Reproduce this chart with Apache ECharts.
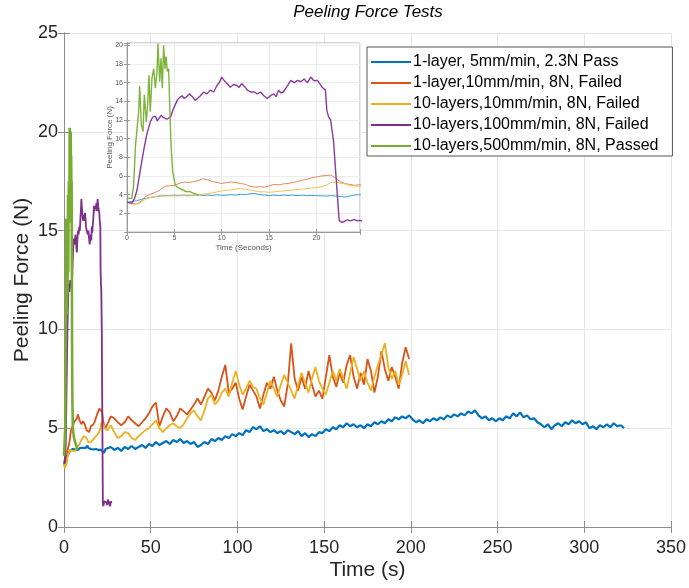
<!DOCTYPE html>
<html>
<head>
<meta charset="utf-8">
<title>Peeling Force Tests</title>
<script src="https://cdn.jsdelivr.net/npm/echarts@6/dist/echarts.min.js"></script>
<style>
  html, body { margin: 0; padding: 0; background: #fff; }
  #chart { width: 689px; height: 588px; }
</style>
</head>
<body>
<div id="chart"></div>
<script>
// series names (legend)
const names = [
  '1-layer, 5mm/min, 2.3N Pass',
  '1-layer,10mm/min, 8N, Failed',
  '10-layers,10mm/min, 8N, Failed',
  '10-layers,100mm/min, 8N, Failed',
  '10-layers,500mm/min, 8N, Passed'
];

// first 25 s, one value every 0.5 s
const blueEarly = [3.2, 3.25, 3.35, 3.5, 3.6, 3.7, 3.8, 3.85, 3.9, 3.88, 3.95, 3.9, 3.95, 3.92, 3.93, 4.0, 3.9, 3.95, 3.9, 4.0,
  3.92, 3.95, 4.0, 3.95, 4.05, 4.0, 4.1, 4.12, 4.0, 3.95, 3.9, 3.95, 3.9, 3.95, 3.92, 3.95, 3.9, 3.95, 3.88, 3.92,
  3.9, 3.88, 3.85, 3.9, 3.85, 3.8, 3.75, 3.85, 3.95, 4.0];
const orangeEarly = [3.2, 3.05, 3.0, 3.3, 3.85, 4.05, 4.25, 4.5, 4.9, 4.95, 5.0, 5.2, 5.35, 5.3, 5.4, 5.5, 5.7, 5.6, 5.4, 5.3,
  5.2, 5.3, 5.35, 5.3, 5.2, 5.1, 4.9, 4.8, 4.85, 4.8, 4.95, 5.1, 5.05, 5.15, 5.2, 5.3, 5.4, 5.55, 5.65, 5.8,
  5.9, 6.0, 6.05, 6.1, 5.8, 5.4, 5.2, 5.1, 5.0, 5.05];
const yellowEarly = [3.2, 3.0, 2.95, 3.2, 3.55, 3.7, 3.8, 3.9, 3.85, 3.9, 3.85, 3.88, 3.9, 3.85, 3.93, 4.0, 4.05, 4.1, 4.2, 4.3,
  4.4, 4.45, 4.5, 4.6, 4.65, 4.6, 4.5, 4.4, 4.3, 4.3, 4.25, 4.3, 4.35, 4.4, 4.45, 4.5, 4.55, 4.6, 4.65, 4.7,
  4.75, 4.85, 5.0, 5.3, 5.35, 5.25, 5.15, 5.0, 4.95, 4.9];

// from 25 s on, one value every 2 s
const blueLate = [3.95, 4.05, 3.9, 4.0, 3.85, 4.05, 3.95, 4.1, 3.95, 4.05, 4.15, 4.0, 4.2, 4.1, 4.3, 4.15, 4.25, 4.35, 4.2, 4.4,
  4.3, 4.45, 4.25, 4.35, 4.2, 4.3, 4.05, 4.15, 4.3, 4.2, 4.45, 4.35, 4.5, 4.4, 4.6, 4.5, 4.7, 4.6, 4.75, 4.65,
  4.9, 4.8, 5.05, 4.95, 5.1, 4.85, 4.95, 4.8, 4.9, 4.75, 4.85, 4.7, 4.9, 4.8, 4.7, 4.85, 4.6, 4.75, 4.55, 4.7,
  4.6, 4.8, 4.75, 4.95, 4.85, 5.05, 4.95, 5.15, 5.05, 5.25, 5.1, 5.2, 5.05, 5.15, 5.0, 5.2, 5.1, 5.3, 5.2, 5.35,
  5.25, 5.45, 5.35, 5.55, 5.45, 5.6, 5.5, 5.65, 5.45, 5.3, 5.4, 5.25, 5.45, 5.35, 5.5, 5.4, 5.55, 5.45, 5.65, 5.55,
  5.7, 5.6, 5.75, 5.65, 5.85, 5.75, 5.9, 5.65, 5.5, 5.6, 5.4, 5.5, 5.35, 5.5, 5.4, 5.6, 5.5, 5.75, 5.6, 5.8,
  5.55, 5.65, 5.45, 5.5, 5.3, 5.2, 5.05, 5.2, 4.95, 5.15, 5.25, 5.1, 5.3, 5.2, 5.4, 5.25, 5.35, 5.2, 5.3, 5.0,
  5.1, 4.95, 5.15, 5.05, 5.2, 5.05, 5.25, 5.1, 5.15, 5.0];
const orangeLate = [5.1, 5.6, 5.5, 5.3, 5.15, 5.3, 5.6, 5.4, 5.25, 5.1, 5.3, 5.5, 5.75, 6.1, 6.3, 5.1, 5.6, 6.0, 5.8, 5.35,
  5.6, 6.0, 5.85, 5.7, 5.95, 6.2, 6.5, 6.2, 6.6, 7.0, 6.8, 6.4, 6.9, 7.6, 8.2, 6.8, 7.0, 7.3, 6.5, 5.95,
  6.6, 7.2, 6.9, 6.6, 6.0, 6.7, 7.3, 7.0, 7.6, 6.9, 6.4, 6.1, 7.2, 9.3, 7.5, 6.9, 7.6, 7.0, 7.9, 7.2,
  6.6, 6.9, 6.5, 7.6, 8.7, 7.6, 7.1, 7.8, 7.3, 8.2, 8.7, 7.6, 7.0, 7.8, 7.2, 8.5, 7.9, 6.8, 7.6, 8.9,
  8.0, 7.4, 8.1, 7.6, 7.0, 8.3, 9.1, 8.5];
const yellowLate = [4.9, 5.15, 4.8, 4.5, 4.6, 4.8, 4.75, 4.5, 4.4, 4.6, 4.75, 4.9, 5.0, 5.2, 5.4, 5.0, 4.8, 5.0, 5.15, 5.25,
  5.1, 5.0, 5.2, 5.5, 5.75, 5.9, 5.6, 5.4, 5.9, 6.5, 6.7, 6.2, 6.4, 6.8, 7.0, 6.6, 7.3, 7.9, 7.2, 6.7,
  7.0, 7.4, 7.1, 7.0, 6.5, 6.2, 6.8, 7.4, 7.0, 6.6, 7.2, 7.7, 7.3, 6.9, 6.5, 7.2, 7.8, 7.3, 6.8, 7.5,
  8.1, 7.4, 7.0, 6.7, 7.3, 7.9, 7.4, 8.0, 7.5, 7.0, 7.8, 8.6, 8.0, 7.4, 7.9, 7.3, 6.9, 7.6, 8.2, 8.7,
  9.3, 8.1, 7.5, 7.9, 7.2, 7.7, 8.4, 7.7];

// purple and green runs: time (s) and force (N)
const purpleT = [0, 0.5, 0.8, 1.06, 1.4, 1.76, 2.1, 2.46, 2.7, 3.0, 3.2, 3.35, 3.6, 3.87, 4.2, 4.6, 4.9, 5.3, 5.55, 5.8,
  6.05, 6.3, 6.6, 6.9, 7.2, 7.4, 7.75, 8.1, 8.45, 8.8, 9.15, 9.5, 9.8, 10.0, 10.2, 10.4, 10.65, 10.9, 11.25, 11.6,
  11.85, 12.1, 12.4, 12.7, 13.05, 13.4, 13.75, 14.1, 14.45, 14.8, 15.15, 15.5, 15.75, 16.0, 16.25, 16.5, 16.9, 17.3, 17.65, 18.0,
  18.35, 18.7, 19.05, 19.4, 19.75, 20.1, 20.35, 20.6, 20.95, 21.1, 21.3, 21.5, 21.8, 22.1, 22.4, 22.65, 22.9, 23.25, 23.6, 24.0,
  24.3, 24.6, 25.0, 25.4, 25.8, 26.2, 26.6, 27.0, 27.4];
const purpleF = [3.2, 3.1, 3.6, 4.5, 6.6, 8.75, 10.5, 11.8, 12.3, 12.4, 11.9, 12.0, 12.5, 12.25, 12.1, 12.3, 13.2, 14.1, 14.4, 14.6,
  14.3, 14.5, 14.8, 14.5, 14.1, 13.9, 14.6, 15.0, 14.8, 15.2, 15.0, 15.7, 16.1, 16.6, 16.3, 16.25, 15.8, 15.5, 15.8, 15.7,
  15.5, 15.9, 15.6, 15.2, 15.0, 15.0, 14.8, 15.0, 14.6, 14.3, 14.6, 14.8, 14.5, 15.2, 14.9, 15.0, 15.6, 16.25, 16.0, 16.25,
  16.1, 16.4, 16.0, 16.6, 16.2, 16.25, 15.9, 15.5, 15.2, 13.0, 12.3, 12.0, 9.8, 5.5, 1.25, 1.05, 1.1, 1.3, 1.2, 1.35,
  1.2, 1.25, 1.1, 1.4, 1.15, 1.3, 1.05, 1.3, 1.2];
const greenT = [0, 0.5, 0.7, 0.9, 1.06, 1.23, 1.34, 1.51, 1.69, 1.83, 2.04, 2.18, 2.32, 2.46, 2.64, 2.82, 2.99, 3.17, 3.27, 3.45,
  3.59, 3.73, 3.87, 4.01, 4.12, 4.26, 4.4, 4.51, 4.65, 4.82, 5.1, 5.4, 5.6, 5.9, 6.3, 6.6, 6.9, 7.2, 7.4, 7.6];
const greenF = [3.6, 3.6, 5.0, 9.3, 9.5, 12.9, 15.6, 11.5, 10.75, 14.7, 11.8, 13.6, 16.8, 12.9, 16.5, 17.5, 15.4, 17.2, 20.2, 16.1,
  18.6, 15.4, 20.0, 17.5, 18.8, 17.2, 17.5, 13.6, 9.3, 6.5, 5.0, 4.75, 4.6, 4.5, 4.3, 4.35, 4.2, 4.1, 4.0, 3.9];

const mainColors = ['#0072BD', '#D95319', '#EDB120', '#7E2F8E', '#77AC30'];
const insetColors = ['#3DA0DA', '#E8865E', '#F0C24E', '#8B3A9E', '#7CB43A'];
const mainWidths = [2.2, 1.8, 1.8, 1.8, 2.6];

function stepPoints(values, t0, dt) {
  return values.map((v, i) => [t0 + i * dt, v]);
}
function pairPoints(ts, vs) {
  return ts.map((t, i) => [t, vs[i]]);
}

const seriesData = [
  stepPoints(blueEarly, 0, 0.5).concat(stepPoints(blueLate, 25, 2)),
  stepPoints(orangeEarly, 0, 0.5).concat(stepPoints(orangeLate, 25, 2)),
  stepPoints(yellowEarly, 0, 0.5).concat(stepPoints(yellowLate, 25, 2)),
  pairPoints(purpleT, purpleF),
  pairPoints(greenT, greenF)
];

const font = "'Liberation Sans', Arial, sans-serif";
const frame = '#8c8c8c';
const gridLine = '#e6e6e6';

const chart = echarts.init(document.getElementById('chart'), null, { renderer: 'canvas' });

// axis builder for the MATLAB style box (ticks inside)
function boxAxis(extra) {
  return Object.assign({
    type: 'value',
    nameMoveOverlap: false,
    axisLine: { show: true, lineStyle: { color: frame, width: 1 } },
    axisTick: { show: true, inside: true, length: 6, lineStyle: { color: frame } },
    splitLine: { show: false },
    axisLabel: { show: false }
  }, extra);
}

const series = [];
seriesData.forEach((d, i) => {
  series.push({
    name: names[i], type: 'line', xAxisIndex: 0, yAxisIndex: 0,
    data: d, showSymbol: false, symbol: 'none', animation: false,
    lineStyle: { color: mainColors[i], width: mainWidths[i] },
    itemStyle: { color: mainColors[i] },
    z: 2
  });
});
seriesData.forEach((d, i) => {
  series.push({
    name: names[i], type: 'line', xAxisIndex: 2, yAxisIndex: 2,
    data: d, showSymbol: false, symbol: 'none', animation: false,
    lineStyle: { color: insetColors[i], width: i >= 3 ? 1.4 : 1 },
    itemStyle: { color: insetColors[i] },
    z: 8
  });
});

const option = {
  animation: false,
  backgroundColor: '#fff',
  title: {
    text: 'Peeling Force Tests',
    left: 368, top: 4, padding: 0, textAlign: 'center',
    textStyle: { fontFamily: font, fontSize: 17, fontStyle: 'italic', fontWeight: 'normal', color: '#000' }
  },
  legend: {
    data: names,
    orient: 'vertical',
    left: 367, top: 47,
    padding: [7, 14, 2, 3],
    itemGap: 5, itemWidth: 40, itemHeight: 14,
    itemStyle: { opacity: 0 },
    backgroundColor: '#fff',
    borderColor: '#555', borderWidth: 1,
    textStyle: { fontFamily: font, fontSize: 16, lineHeight: 16, color: '#000', padding: [0, 0, 0, -3] },
    z: 20
  },
  grid: [
    { left: 64, top: 33, width: 609, height: 494, show: false },
    { left: 127, top: 43, width: 233, height: 189, show: true, backgroundColor: '#fff', borderColor: '#b0b0b0', borderWidth: 1, z: 5 }
  ],
  xAxis: [
    boxAxis({
      gridIndex: 0, position: 'bottom', min: 0, max: 350, interval: 50,
      name: 'Time (s)', nameLocation: 'middle', nameGap: 33,
      nameTextStyle: { fontFamily: font, fontSize: 21, color: '#262626' },
      axisLabel: { show: true, margin: 12, fontFamily: font, fontSize: 18, color: '#262626' },
      splitLine: { show: true, lineStyle: { color: gridLine, width: 1 } }
    }),
    boxAxis({ gridIndex: 0, position: 'top', min: 0, max: 350, interval: 50 }),
    boxAxis({
      gridIndex: 1, position: 'bottom', min: 0, max: 24.6, interval: 5, z: 6,
      name: 'Time (Seconds)', nameLocation: 'middle', nameGap: 12,
      nameTextStyle: { fontFamily: font, fontSize: 8, color: '#555' },
      axisLine: { show: true, lineStyle: { color: '#9a9a9a', width: 1 } },
      axisTick: { show: true, inside: true, length: 3, lineStyle: { color: '#9a9a9a' } },
      axisLabel: {
        show: true, margin: 3, fontFamily: font, fontSize: 7, color: '#555',
        formatter: v => (v % 5 === 0 ? String(v) : '')
      },
      splitLine: { show: true, lineStyle: { color: '#ececec', width: 1 } }
    }),
    boxAxis({
      gridIndex: 1, position: 'top', min: 0, max: 24.6, interval: 5, z: 6,
      axisLine: { show: true, lineStyle: { color: '#9a9a9a', width: 1 } },
      axisTick: { show: true, inside: true, length: 3, lineStyle: { color: '#9a9a9a' } }
    })
  ],
  yAxis: [
    boxAxis({
      gridIndex: 0, position: 'left', min: 0, max: 25, interval: 5,
      name: 'Peeling Force (N)', nameLocation: 'middle', nameGap: 31,
      nameTextStyle: { fontFamily: font, fontSize: 21, color: '#262626' },
      axisLabel: { show: true, margin: 6, fontFamily: font, fontSize: 18, color: '#262626' },
      splitLine: { show: true, lineStyle: { color: gridLine, width: 1 } }
    }),
    boxAxis({ gridIndex: 0, position: 'right', min: 0, max: 25, interval: 5 }),
    boxAxis({
      gridIndex: 1, position: 'left', min: 0, max: 20.25, interval: 2, z: 6,
      name: 'Peeling Force (N)', nameLocation: 'middle', nameGap: 13,
      nameTextStyle: { fontFamily: font, fontSize: 8, color: '#555' },
      axisLine: { show: true, lineStyle: { color: '#9a9a9a', width: 1 } },
      axisTick: { show: true, inside: true, length: 3, lineStyle: { color: '#9a9a9a' } },
      axisLabel: {
        show: true, margin: 4, fontFamily: font, fontSize: 7, color: '#555',
        formatter: v => (v > 0 && v % 2 === 0 ? String(v) : '')
      },
      splitLine: { show: true, lineStyle: { color: '#ececec', width: 1 } }
    }),
    boxAxis({
      gridIndex: 1, position: 'right', min: 0, max: 20.25, interval: 2, z: 6,
      axisLine: { show: true, lineStyle: { color: '#9a9a9a', width: 1 } },
      axisTick: { show: true, inside: true, length: 3, lineStyle: { color: '#9a9a9a' } }
    })
  ],
  series: series
};

chart.setOption(option);
</script>
</body>
</html>
